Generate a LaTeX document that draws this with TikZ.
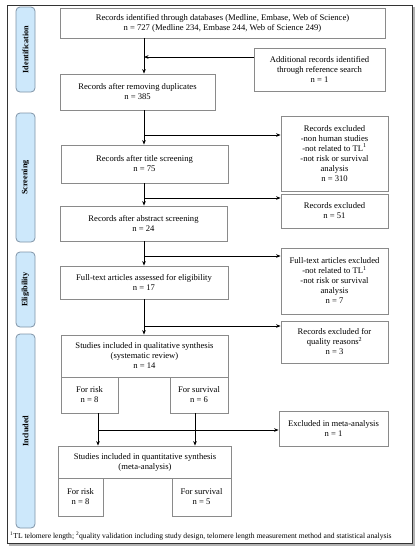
\documentclass[tikz,border=0pt]{standalone}
\usepackage{fontspec}
\setmainfont{Liberation Serif}
\usetikzlibrary{arrows.meta}
\definecolor{boxline}{HTML}{8A8A8A}
\definecolor{sidefill}{HTML}{CDE8FB}
\definecolor{sideline}{HTML}{7F93A6}
\tikzset{
  box/.style={draw=boxline, line width=0.8pt, fill=white, align=center, inner sep=0pt,
              font=\fontsize{8.6}{10}\selectfont},
  side/.style={draw=sideline, line width=0.8pt, fill=sidefill, rounded corners=4pt, rotate=90,
               minimum height=19pt, inner sep=0pt, font=\bfseries\fontsize{8.2}{9}\selectfont},
  conn/.style={line width=0.8pt, black},
  arr/.style={conn, -{Stealth[length=4.5pt,width=3.6pt]}},
}
\begin{document}
\begin{tikzpicture}[x=1pt, y=-1pt]
\useasboundingbox (0,0) rectangle (419,550);
% frame with shadow
\draw[line width=1.2pt, gray!60] (9,545) -- (414,545) -- (414,7);
\node[draw=black!80, line width=0.8pt, minimum width=405pt, minimum height=538pt, inner sep=0pt] (frame) at (209.5,274) {};

% side labels
\node[side, minimum width=85pt] (sid) at (25.5,49.5) {Identification};
\node[side, minimum width=129pt] (sscr) at (25.5,177.5) {Screening};
\node[side, minimum width=75pt] (seli) at (25.5,289.5) {Eligibility};
\node[side, minimum width=194pt] (sinc) at (25.5,431) {Included};

% main column
\node[box, minimum width=325pt, minimum height=30pt] (db) at (222.5,23)
  {Records identified through databases (Medline, Embase, Web of Science)\\n = 727 (Medline 234, Embase 244, Web of Science 249)};
\node[box, minimum width=131pt, minimum height=43pt] (add) at (319.5,69.5)
  {Additional records identified\\through reference search\\n = 1};
\node[box, minimum width=155pt, minimum height=36pt] (dup) at (137.5,92)
  {Records after removing duplicates\\n = 385};
\node[box, minimum width=107pt, minimum height=75pt] (ex1) at (334.5,153.5)
  {Records excluded\\-non human studies\\-not related to TL\textsuperscript{1}\\-not risk or survival\\analysis\\n = 310};
\node[box, minimum width=167pt, minimum height=38pt] (title) at (144.5,164)
  {Records after title screening\\n = 75};
\node[box, minimum width=107pt, minimum height=34pt] (ex2) at (334.5,211)
  {Records excluded\\n = 51};
\node[box, minimum width=167pt, minimum height=35pt] (abs) at (143.5,223.5)
  {Records after abstract screening\\n = 24};
\node[box, minimum width=107pt, minimum height=66pt] (ex3) at (334.5,281)
  {Full-text articles excluded\\-not related to TL\textsuperscript{1}\\-not risk or survival\\analysis\\n = 7};
\node[box, minimum width=168pt, minimum height=33pt] (full) at (144,282.5)
  {Full-text articles assessed for eligibility\\n = 17};
\node[box, minimum width=107pt, minimum height=42pt] (ex4) at (334.5,342)
  {Records excluded for\\quality reasons\textsuperscript{2}\\n = 3};
\node[box, minimum width=167pt, minimum height=42pt] (qual) at (144.5,356)
  {Studies included in qualitative synthesis\\(systematic review)\\n = 14};
\node[box, minimum width=57pt, minimum height=36pt] (qrisk) at (89.5,395)
  {For risk\\n = 8};
\node[box, minimum width=58pt, minimum height=36pt] (qsurv) at (199,395)
  {For survival\\n = 6};
\node[box, minimum width=109pt, minimum height=35pt] (ex5) at (333.5,428.5)
  {Excluded in meta-analysis\\n = 1};
\node[box, minimum width=173pt, minimum height=32pt] (quant) at (145,462)
  {Studies included in quantitative synthesis\\(meta-analysis)};
\node[box, minimum width=45pt, minimum height=38pt] (nrisk) at (80.5,497)
  {For risk\\n = 8};
\node[box, minimum width=59pt, minimum height=38pt] (nsurv) at (201.5,497)
  {For survival\\n = 5};

% footnote
\node[anchor=west, inner sep=0pt, font=\fontsize{7.6}{9}\selectfont] (foot) at (10,536)
  {\textsuperscript{1}TL telomere length; \textsuperscript{2}quality validation including study design, telomere length measurement method and statistical analysis};

% connectors
\coordinate (sp) at (144,0);
\coordinate (b1) at (0,57);
\coordinate (b2) at (0,135);
\coordinate (b3) at (0,198);
\coordinate (b4) at (0,256);
\coordinate (b5) at (0,326);
\coordinate (b6) at (0,430);
\coordinate (rx) at (98,0);
\coordinate (sx) at (195,0);

\draw[arr] (db.south -| sp) -- (dup.north -| sp);
\draw[arr] (add.west |- b1) -- (sp |- b1);
\draw[arr] (dup.south -| sp) -- (title.north -| sp);
\draw[arr] (sp |- b2) -- (ex1.west |- b2);
\draw[arr] (title.south -| sp) -- (abs.north -| sp);
\draw[arr] (sp |- b3) -- (ex2.west |- b3);
\draw[arr] (abs.south -| sp) -- (full.north -| sp);
\draw[arr] (sp |- b4) -- (ex3.west |- b4);
\draw[arr] (full.south -| sp) -- (qual.north -| sp);
\draw[arr] (sp |- b5) -- (ex4.west |- b5);
\draw[arr] (qrisk.south -| rx) -- (quant.north -| rx);
\draw[arr] (qsurv.south -| sx) -- (quant.north -| sx);
\draw[arr] (rx |- b6) -- (ex5.west |- b6);
\end{tikzpicture}
\end{document}
